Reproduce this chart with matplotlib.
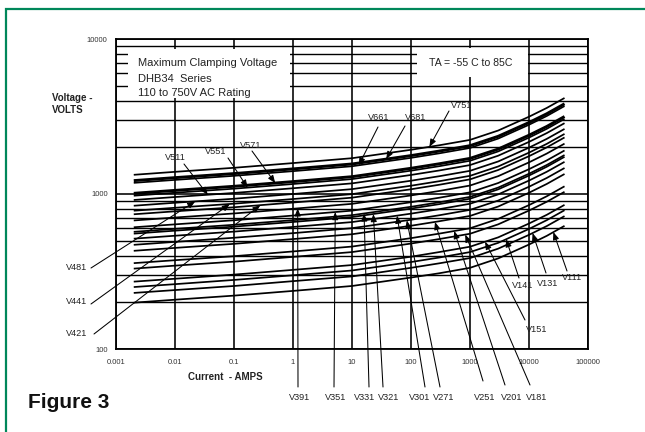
import matplotlib
matplotlib.use("Agg")
import matplotlib.pyplot as plt
import numpy as np
from matplotlib.ticker import FixedLocator, FixedFormatter, NullFormatter, NullLocator
from matplotlib.patches import Rectangle

plt.rcParams['font.family'] = ['Liberation Sans', 'DejaVu Sans']

# ---------------- data ----------------
current_a = [0.002, 0.01, 0.1, 1, 10, 100, 300, 1000, 3000, 10000, 20000, 40000]

v751 = [1330, 1390, 1476, 1583, 1702, 1929, 2062, 2234, 2567, 3152, 3591, 4163]
v681 = [1220, 1275, 1354, 1452, 1562, 1769, 1891, 2050, 2355, 2891, 3294, 3819]
v661 = [1180, 1233, 1310, 1404, 1510, 1711, 1829, 1982, 2277, 2797, 3186, 3693]
v571 = [1010, 1055, 1121, 1202, 1293, 1465, 1566, 1697, 1949, 2394, 2727, 3161]
v551 = [975, 1019, 1082, 1160, 1248, 1414, 1511, 1638, 1882, 2311, 2633, 3052]
v511 = [915, 956, 1016, 1089, 1171, 1327, 1418, 1537, 1766, 2169, 2471, 2864]
v481 = [840, 878, 932, 1000, 1075, 1218, 1302, 1411, 1621, 1991, 2268, 2629]
v441 = [780, 815, 866, 928, 998, 1131, 1209, 1310, 1505, 1849, 2106, 2441]
v421 = [740, 773, 821, 881, 947, 1073, 1147, 1243, 1428, 1754, 1998, 2316]
v391 = [675, 705, 749, 803, 864, 979, 1046, 1134, 1303, 1600, 1823, 2113]
v351 = [610, 637, 677, 726, 781, 885, 946, 1025, 1177, 1446, 1647, 1909]
v331 = [570, 596, 633, 678, 730, 827, 884, 958, 1100, 1351, 1539, 1784]
v321 = [555, 580, 616, 660, 710, 805, 860, 932, 1071, 1315, 1499, 1737]
v301 = [515, 538, 572, 613, 659, 747, 798, 865, 994, 1221, 1391, 1612]
v271 = [470, 491, 522, 559, 602, 682, 729, 790, 907, 1114, 1269, 1471]
v251 = [430, 449, 477, 512, 550, 624, 667, 722, 830, 1019, 1161, 1346]
v201 = [358, 374, 397, 426, 458, 519, 555, 601, 691, 848, 967, 1121]
v181 = [330, 345, 366, 393, 422, 479, 512, 554, 637, 782, 891, 1033]
v151 = [272, 284, 302, 324, 348, 394, 422, 457, 525, 645, 734, 851]
v141 = [251, 262, 279, 299, 321, 364, 389, 422, 484, 595, 678, 786]
v131 = [230, 240, 255, 274, 294, 334, 357, 386, 444, 545, 621, 720]
v111 = [199, 208, 221, 237, 255, 289, 308, 334, 384, 472, 537, 623]

curve_names = ["V751", "V681", "V661", "V571", "V551", "V511", "V481", "V441",
               "V421", "V391", "V351", "V331", "V321", "V301", "V271", "V251",
               "V201", "V181", "V151", "V141", "V131", "V111"]
curve_values = [v751, v681, v661, v571, v551, v511, v481, v441, v421, v391, v351,
                v331, v321, v301, v271, v251, v201, v181, v151, v141, v131, v111]

# current (A) at which each label's arrow touches its curve
tip_current = {"V511": 0.036, "V551": 0.17, "V571": 0.5, "V661": 13, "V681": 38,
               "V751": 205, "V481": 0.022, "V441": 0.085, "V421": 0.28,
               "V391": 1.2, "V351": 5.2, "V331": 16, "V321": 23, "V301": 58,
               "V271": 85, "V251": 255, "V201": 540, "V181": 830, "V151": 1800,
               "V141": 4100, "V131": 11500, "V111": 25900}

x_ticks = [0.001, 0.01, 0.1, 1, 10, 100, 1000, 10000, 100000]
x_tick_labels = ["0.001", "0.01", "0.1", "1", "10", "100", "1000", "10000", "100000"]
y_ticks = [100, 1000, 10000]
y_tick_labels = ["100", "1000", "10000"]
y_grid_minor = [200, 300, 400, 500, 600, 700, 800, 900,
                2000, 3000, 4000, 5000, 6000, 7000, 8000, 9000]

# ---------------- layout (pixel positions in the 645x432 image) ----------------
W, H = 645, 432
label_pos = {  # label centre, arrow tail
    "V511": ((175, 157), (184, 164)), "V551": ((216, 152), (228, 158)),
    "V571": ((251, 145), (252, 151)), "V661": ((379, 118), (378, 127)),
    "V681": ((416, 118), (405, 126)), "V751": ((462, 106), (449, 111)),
    "V481": ((77, 268), (91, 268)), "V441": ((77, 302), (91, 304)),
    "V421": ((77, 333), (94, 334)),
    "V391": ((300, 398), (298, 387)), "V351": ((336, 398), (334, 387)),
    "V331": ((365, 398), (369, 387)), "V321": ((389, 398), (383, 387)),
    "V301": ((420, 398), (425, 387)), "V271": ((444, 398), (440, 387)),
    "V251": ((485, 398), (483, 381)), "V201": ((512, 398), (505, 385)),
    "V181": ((537, 398), (530, 385)), "V151": ((537, 330), (525, 320)),
    "V141": ((523, 285), (519, 278)), "V131": ((548, 283), (546, 273)),
    "V111": ((572, 277), (567, 271)),
}
thick = {"V681", "V571"}

fig = plt.figure(figsize=(W / 100, H / 100), dpi=100)
ax = fig.add_axes([116 / W, 1 - 349 / H, 472 / W, 310 / H])

for name, vals in zip(curve_names, curve_values):
    ax.plot(current_a, vals, color="black", lw=2.1 if name in thick else 1.25,
            zorder=3, solid_capstyle="butt")

ax.set_xscale("log")
ax.set_yscale("log")
ax.set_xlim(1e-3, 1e5)
ax.set_ylim(100, 10000)
ax.xaxis.set_major_locator(FixedLocator(x_ticks))
ax.xaxis.set_major_formatter(FixedFormatter(x_tick_labels))
ax.xaxis.set_minor_locator(NullLocator())
ax.yaxis.set_major_locator(FixedLocator(y_ticks))
ax.yaxis.set_major_formatter(FixedFormatter(y_tick_labels))
ax.yaxis.set_minor_locator(FixedLocator(y_grid_minor))
ax.yaxis.set_minor_formatter(NullFormatter())
ax.tick_params(which="both", length=0, labelsize=5.5, labelcolor="#333333")
ax.tick_params(axis="x", pad=7)
ax.tick_params(axis="y", pad=6)
ax.grid(which="major", color="black", lw=1.15)
ax.grid(which="minor", axis="y", color="black", lw=1.0)
for sp in ax.spines.values():
    sp.set_linewidth(1.3)
    sp.set_color("black")

def fx(x):
    return (x - 116) / 472

def fy(y):
    return (349 - y) / 310

# title box
ax.add_patch(Rectangle((fx(128), fy(98)), (290 - 128) / 472, (98 - 49) / 310,
                       transform=ax.transAxes, facecolor="white", edgecolor="none", zorder=4))
for txt, yy in [("Maximum Clamping Voltage", 63), ("DHB34  Series", 79),
                ("110 to 750V AC Rating", 93)]:
    ax.text(fx(138), fy(yy), txt, transform=ax.transAxes, fontsize=8,
            ha="left", va="center", color="#222222", zorder=5)

# temperature box
ax.add_patch(Rectangle((fx(417), fy(77)), (528 - 417) / 472, (77 - 48) / 310,
                       transform=ax.transAxes, facecolor="white", edgecolor="none", zorder=4))
ax.text(fx(471), fy(63), "TA = -55 C to 85C", transform=ax.transAxes, fontsize=7.6,
        ha="center", va="center", color="#222222", zorder=5)

# labels with arrows
for name, vals in zip(curve_names, curve_values):
    ic = tip_current[name]
    vt = 10 ** np.interp(np.log10(ic), np.log10(current_a), np.log10(vals))
    (lx, ly), (tx, ty) = label_pos[name]
    ax.annotate("", xy=(ic, vt), xycoords="data", xytext=(tx, H - ty),
                textcoords="figure pixels", annotation_clip=False,
                arrowprops=dict(arrowstyle="-|>,head_length=0.45,head_width=0.18",
                                color="black", lw=0.75, shrinkA=0, shrinkB=0),
                zorder=6)
    fig.text(lx / W, 1 - ly / H, name, fontsize=6.6, ha="center", va="center",
             color="#222222")

# axis titles
fig.text(52 / W, 1 - 98 / H, "Voltage -", fontsize=7, fontweight="bold",
         ha="left", va="center", color="#222222")
fig.text(52 / W, 1 - 110 / H, "VOLTS", fontsize=7, fontweight="bold",
         ha="left", va="center", color="#222222")
fig.text(225 / W, 1 - 377 / H, "Current  - AMPS", fontsize=7, fontweight="bold",
         ha="center", va="center", color="#222222")

fig.text(28 / W, 1 - 403 / H, "Figure 3", fontsize=15, fontweight="bold",
         ha="left", va="center", color="#111111")

# green frame (left and top edges visible)
fig.patches.append(Rectangle((5.5 / W, -0.5), 2, 1.5 - 9 / H, transform=fig.transFigure,
                             fill=False, edgecolor="#00875A", lw=1.6))

fig.savefig("out.png", dpi=100)
